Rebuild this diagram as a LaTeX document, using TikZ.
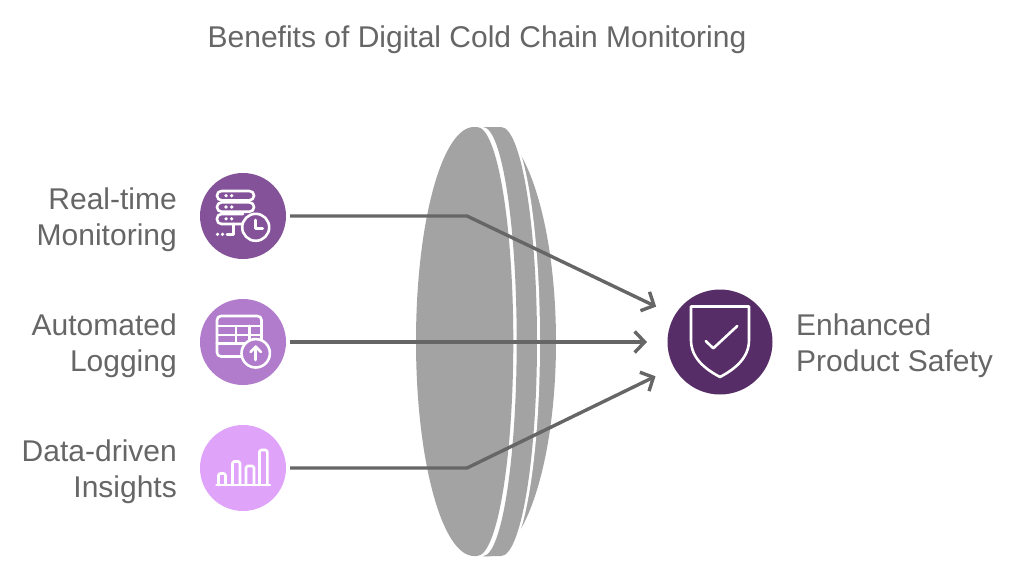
\documentclass[tikz,border=0pt]{standalone}
\usepackage{fontspec}
\setmainfont{Liberation Sans}
\usetikzlibrary{arrows.meta}
\definecolor{T1}{RGB}{102,102,102}
\definecolor{L1}{RGB}{163,163,163}
\definecolor{P1}{RGB}{132,82,153}
\definecolor{P2}{RGB}{176,124,203}
\definecolor{P3}{RGB}{223,164,249}
\definecolor{P4}{RGB}{86,45,103}
\tikzset{
  disc/.style={circle, minimum size=86pt, inner sep=0pt, outer sep=4pt},
  label/.style={inner sep=0pt, text=T1, font=\fontsize{30}{36}\selectfont},
  conn/.style={T1, line width=3.4pt, -{Straight Barb[length=10pt,width=21pt]}},
  glyph/.style={white, line width=2.6pt, line cap=round, line join=round},
}
\begin{document}
\begin{tikzpicture}[x=1pt, y=-1pt]
      \useasboundingbox (0, 0) rectangle (1026, 578);
      \node[label] (title) at (477, 40) {Benefits of Digital Cold Chain Monitoring};

      \fill[L1] (487, 342) ellipse [x radius=69pt, y radius=214.5pt];
      \fill[white] (470, 127) -- (503, 127) arc [start angle=90, end angle=-90, x radius=37pt, y radius=214.5pt] -- (470, 556) -- cycle;
      \fill[L1] (483, 127) -- (501, 127) arc [start angle=90, end angle=-90, x radius=36pt, y radius=214.5pt] -- (483, 556) arc [start angle=-90, end angle=90, x radius=33.7pt, y radius=214.5pt] -- cycle;
      \fill[L1] (477, 127) -- (474, 127) arc [start angle=90, end angle=270, x radius=58pt, y radius=214.5pt] -- (477, 556) arc [start angle=-90, end angle=90, x radius=36.3pt, y radius=214.5pt] -- cycle;

      \node[disc, fill=P1] (monitoring) at (243, 216) {};
      \node[disc, fill=P2] (logging) at (243, 342) {};
      \node[disc, fill=P3] (insights) at (243, 468) {};
      \node[circle, fill=P4, minimum size=105pt, inner sep=0pt, outer sep=20.5pt] (safety) at (720, 342) {};

      \node[label, anchor=east, align=right] (monitoringtext) at (177, 220) {Real-time\\Monitoring};
      \node[label, anchor=east, align=right] (loggingtext) at (177, 346) {Automated\\Logging};
      \node[label, anchor=east, align=right] (insightstext) at (177, 472) {Data-driven\\Insights};
      \node[label, anchor=west, align=left] (safetytext) at (796, 346) {Enhanced\\Product Safety};

      \coordinate (bendtop) at (467, 216);
      \coordinate (bendbottom) at (467, 468);
      \draw[conn] (monitoring.east) -- (bendtop) -- (safety.151.7);
      \draw[conn] (logging.east) -- (safety.west);
      \draw[conn] (insights.east) -- (bendbottom) -- (safety.208.3);

      \draw[glyph, rounded corners=4.5pt] (217, 191) rectangle (254, 200.3);
      \draw[glyph, rounded corners=4.5pt] (217, 202.4) rectangle (254, 211.7);
      \draw[glyph, rounded corners=4.5pt] (243, 214) -- (217, 214) -- (217, 224) -- (242, 224);
      \foreach \y in {195.7, 207, 218.8} {
        \fill[white] (226, \y) circle (1.8pt) (231.7, \y) circle (1.8pt);
      }
      \fill[white] (217.5, 234.3) circle (1.8pt) (222.5, 234.3) circle (1.8pt);
      \draw[glyph] (227, 234.3) -- (233.3, 234.3) -- (233.3, 224);
      \draw[glyph, fill=P1] (255.7, 227.3) circle (13.5pt);
      \draw[glyph] (255.7, 220) -- (255.7, 228.5) -- (262.7, 228.5);

      \draw[glyph] (244, 356.5) -- (221, 356.5) arc [start angle=270, end angle=180, radius=4pt] -- (217, 320) arc [start angle=180, end angle=90, radius=4pt] -- (257.5, 316) arc [start angle=90, end angle=0, radius=4pt] -- (261.5, 340);
      \draw[glyph] (217, 326) -- (261.5, 326);
      \draw[glyph] (217, 335) -- (261.5, 335);
      \draw[glyph] (217, 343.5) -- (245, 343.5);
      \draw[glyph] (236, 326) -- (236, 343.5);
      \draw[glyph] (249.3, 326) -- (249.3, 340);
      \draw[glyph, fill=P2] (255.7, 353.3) circle (14.2pt);
      \draw[glyph] (255.7, 360) -- (255.7, 347);
      \draw[glyph] (250.5, 352) -- (255.7, 346.7) -- (260.9, 352);

      \draw[glyph] (216.5, 485) -- (270, 485);
      \foreach \xa/\xb/\ytop in {218.5/225.5/473.5, 232.5/240/461.5, 246/254/466, 259.5/267.3/450} {
        \draw[glyph, rounded corners=1.5pt] (\xa, 485) -- (\xa, \ytop) -- (\xb, \ytop) -- (\xb, 485);
      }

      \draw[glyph] (691, 306.5) -- (749, 306.5) -- (749, 340) .. controls (749, 358) and (735, 369) .. (720, 377) .. controls (705, 369) and (691, 358) .. (691, 340) -- cycle;
      \draw[glyph] (705.7, 341) -- (713.3, 348.3) -- (737.3, 326);
    \end{tikzpicture}
\end{document}
